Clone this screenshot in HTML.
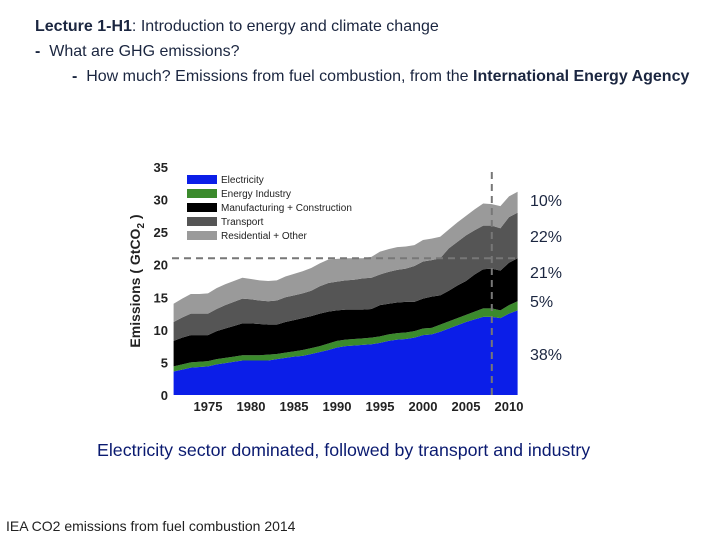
<!DOCTYPE html>
<html><head><meta charset="utf-8"><style>
body{margin:0;width:720px;height:540px;background:#fff;position:relative;overflow:hidden;font-family:"Liberation Sans",sans-serif;color:#1b2640}
.t{position:absolute;white-space:nowrap}
</style></head><body>
<div class="t" style="left:35px;top:18px;font-size:16px"><b>Lecture 1-H1</b>: Introduction to energy and climate change</div>
<div class="t" style="left:35px;top:43px;font-size:16px"><b>-</b>&nbsp; What are GHG emissions?</div>
<div class="t" style="left:72px;top:68px;font-size:16px"><b>-</b>&nbsp; How much? Emissions from fuel combustion, from the <b>International Energy Agency</b></div>
<div class="t" style="left:97px;top:440px;font-size:17.8px;color:#0a1a70">Electricity sector dominated, followed by transport and industry</div>
<div class="t" style="left:6px;top:518px;font-size:14px;color:#222">IEA CO2 emissions from fuel combustion 2014</div>
<div class="t" style="left:530px;top:193px;font-size:16px">10%</div>
<div class="t" style="left:530px;top:229px;font-size:16px">22%</div>
<div class="t" style="left:530px;top:265px;font-size:16px">21%</div>
<div class="t" style="left:530px;top:294px;font-size:16px">5%</div>
<div class="t" style="left:530px;top:347px;font-size:16px">38%</div>
<svg id="chart" width="720" height="540" style="position:absolute;left:0;top:0" xmlns="http://www.w3.org/2000/svg"></svg>
<script>
const years=[];for(let y=1971;y<=2011;y++)years.push(y);
const electricity=[3.6,3.9,4.2,4.3,4.4,4.7,4.9,5.1,5.3,5.3,5.3,5.3,5.5,5.7,5.9,6.0,6.3,6.6,6.9,7.3,7.5,7.6,7.7,7.8,8.0,8.3,8.5,8.6,8.8,9.2,9.3,9.7,10.2,10.7,11.2,11.6,12.0,12.0,11.8,12.5,13.0];
const energyIndustry=[0.8,0.8,0.8,0.8,0.8,0.8,0.8,0.8,0.8,0.8,0.8,0.9,0.8,0.8,0.8,0.9,0.9,0.9,1.0,1.0,1.0,1.0,1.0,1.0,1.0,1.0,1.0,1.0,1.0,1.0,1.0,1.1,1.1,1.1,1.1,1.2,1.3,1.3,1.2,1.3,1.4];
const manufacturing=[3.9,4.1,4.2,4.1,4.0,4.3,4.5,4.7,4.9,4.9,4.8,4.6,4.5,4.7,4.8,4.9,4.9,5.0,4.9,4.7,4.6,4.5,4.4,4.4,4.8,4.7,4.7,4.7,4.5,4.6,4.8,4.5,4.7,5.0,5.2,5.7,6.0,6.1,6.1,6.5,6.6];
const transport=[2.9,3.1,3.3,3.3,3.3,3.4,3.6,3.7,3.8,3.7,3.6,3.6,3.7,3.8,3.8,3.8,3.9,4.2,4.4,4.4,4.5,4.6,4.8,4.8,4.7,4.9,5.0,5.1,5.5,5.7,5.6,5.7,6.5,6.7,7.0,6.8,6.7,6.6,6.5,7.0,7.0];
const residential=[2.8,2.9,3.0,3.0,3.1,3.2,3.2,3.2,3.2,3.1,3.1,3.1,3.1,3.2,3.3,3.4,3.5,3.5,3.6,3.5,3.4,3.3,3.1,3.2,3.5,3.5,3.5,3.4,3.2,3.3,3.3,3.3,2.9,3.0,3.0,3.2,3.4,3.3,3.4,3.2,3.2];
const seriesNames=["Electricity","Energy Industry","Manufacturing + Construction","Transport","Residential + Other"];
const yTicks=[0,5,10,15,20,25,30,35];
const xTicks=[1975,1980,1985,1990,1995,2000,2005,2010];
const refLevel=21, refYear=2008;
const colors=["#0b1ee8","#3b8a2c","#000000","#555555","#9a9a9a"];
const NS="http://www.w3.org/2000/svg";
const svg=document.getElementById('chart');
const X=y=>208+(y-1975)*(509-208)/35;
const Y=v=>395-v*(395-167)/35;
function el(t,a,p){const e=document.createElementNS(NS,t);for(const k in a)e.setAttribute(k,a[k]);(p||svg).appendChild(e);return e;}
const series=[electricity,energyIndustry,manufacturing,transport,residential];
let base=years.map(()=>0);
series.forEach((s,i)=>{
  const top=base.map((b,j)=>b+s[j]);
  let d="M"+years.map((y,j)=>X(y)+","+Y(top[j])).join("L");
  for(let j=years.length-1;j>=0;j--)d+="L"+X(years[j])+","+Y(base[j]);
  const p=el('path',{d:d+"Z",fill:colors[i]});
  
  
  base=top;
});
yTicks.forEach(v=>{const t=el('text',{x:168,y:Y(v)+5,'text-anchor':'end','font-size':13,'font-weight':'bold',fill:'#222','font-family':'Liberation Sans'});t.textContent=v;
});
xTicks.forEach(v=>{const t=el('text',{x:X(v),y:411,'text-anchor':'middle','font-size':13,'font-weight':'bold',fill:'#222','font-family':'Liberation Sans'});t.textContent=v;
});
const yt=el('text',{transform:'translate(140,281) rotate(-90)','text-anchor':'middle','font-size':14,'font-weight':'bold',fill:'#222','font-family':'Liberation Sans'});
yt.innerHTML='Emissions ( GtCO<tspan font-size="10" dy="4">2</tspan><tspan dy="-4"> )</tspan>';

const h=el('line',{x1:172,x2:519,y1:Y(refLevel),y2:Y(refLevel),stroke:'#777','stroke-width':2,'stroke-dasharray':'7,5'});

const v=el('line',{x1:X(refYear),x2:X(refYear),y1:172,y2:395,stroke:'#777','stroke-width':2,'stroke-dasharray':'7,5'});

seriesNames.forEach((n,i)=>{
  const g=el('g',{});
  
  el('rect',{x:187,y:175+i*14,width:30,height:9,fill:colors[i]},g);
  const t=el('text',{x:221,y:183+i*14,'font-size':10,fill:'#222','font-family':'Liberation Sans'},g);t.textContent=n;
});
</script>
</body></html>
